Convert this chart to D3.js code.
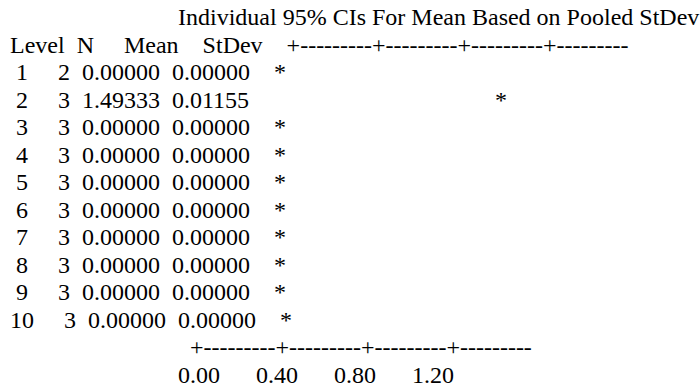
<!DOCTYPE html>
<html>
<head>
<meta charset="utf-8">
<script src="https://cdn.jsdelivr.net/npm/d3@7"></script>
<style>
  html, body { margin: 0; padding: 0; background: #fff; }
  svg { display: block; }
  text { font-family: 'Liberation Serif', 'Times New Roman', Times, serif; font-size: 24px; fill: #000; white-space: pre; }
</style>
</head>
<body>
<svg id="chart" width="700" height="390"></svg>
<script>
// ---- data ----
const titleText = "Individual 95% CIs For Mean Based on Pooled StDev";
const headers = ["Level", "N", "Mean", "StDev"];
const levels = ["1", "2", "3", "4", "5", "6", "7", "8", "9", "10"];
const nValues = [2, 3, 3, 3, 3, 3, 3, 3, 3, 3];
const means = [0.00000, 1.49333, 0.00000, 0.00000, 0.00000, 0.00000, 0.00000, 0.00000, 0.00000, 0.00000];
const stdevs = [0.00000, 0.01155, 0.00000, 0.00000, 0.00000, 0.00000, 0.00000, 0.00000, 0.00000, 0.00000];
const tickValues = [0.00, 0.40, 0.80, 1.20];
const tickLabels = ["0.00", "0.40", "0.80", "1.20"];
const axisExtent = [0.00, 1.60];

// ---- layout (text-grid output rendered in a proportional serif font) ----
const FONT = "24px 'Liberation Serif', 'Times New Roman', Times, serif";
const X0 = 10, LINE = 27.5, BASE0 = 25;
const AXIS_COL = 30, CHARS_PER_TICK = 10, TITLE_COL = 28;
const headerWidths = [5, 3, 9, 9];
const cellWidths = [2, 6, 9, 9];

const ctx = document.createElement("canvas").getContext("2d");
ctx.font = FONT;
const measure = s => ctx.measureText(s).width;

// mean value -> character column of the text grid
const col = d3.scaleLinear().domain([tickValues[0], tickValues[1]]).range([AXIS_COL, AXIS_COL + CHARS_PER_TICK]);
// rows
const rowY = d3.scalePoint().domain(levels).range([BASE0 + 2 * LINE, BASE0 + (levels.length + 1) * LINE]);
const headerY = BASE0 + LINE;
const axisY = BASE0 + (levels.length + 2) * LINE;
const labelY = axisY + LINE;

const svg = d3.select("#chart");

function put(prefix, str, y, cls) {
  svg.append("text").attr("class", cls || null)
    .attr("x", X0 + measure(prefix)).attr("y", y).text(str);
}

// title
put(" ".repeat(TITLE_COL), titleText, BASE0, "title");

// header row
let line = "";
headers.forEach((h, i) => {
  const cell = h.padStart(headerWidths[i]);
  const lead = cell.length - h.length;
  put(line + " ".repeat(lead), h, headerY, "header");
  line += cell;
});

// axis string built from the column scale
const tickCols = tickValues.map(v => Math.round(col(v)));
const c0 = Math.round(col(axisExtent[0])), c1 = Math.round(col(axisExtent[1]));
let axisStr = "";
for (let c = c0; c < c1; c++) axisStr += tickCols.includes(c) ? "+" : "-";

put(line.padEnd(AXIS_COL), axisStr, headerY, "axis-top");

// data rows
levels.forEach((lv, i) => {
  const y = rowY(lv);
  const vals = [lv, String(nValues[i]), means[i].toFixed(5), stdevs[i].toFixed(5)];
  let l = "";
  vals.forEach((v, k) => {
    const cell = v.padStart(cellWidths[k]);
    put(l + " ".repeat(cell.length - v.length), v, y, "cell");
    l += cell;
  });
  // mean marker
  const sc = Math.round(col(means[i]));
  put(l.padEnd(sc), "*", y, "mark");
});

// bottom axis
put(" ".repeat(c0), axisStr, axisY, "axis-bottom");

// tick labels centred under the tick columns
let lab = "";
tickLabels.forEach((t, i) => {
  const start = tickCols[i] - Math.floor(t.length / 2);
  lab = lab.padEnd(start);
  put(lab, t, labelY, "tick");
  lab += t;
});
</script>
</body>
</html>
